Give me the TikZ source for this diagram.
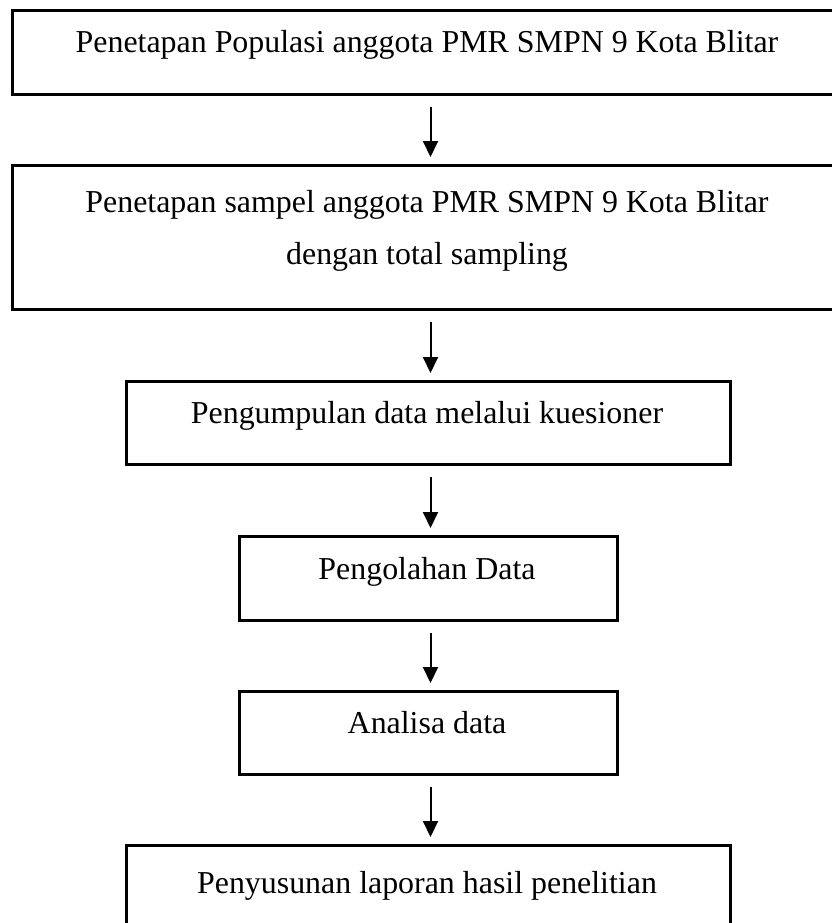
\documentclass[tikz,border=0pt]{standalone}
\usepackage{fontspec}
\setmainfont{Liberation Serif}
\usetikzlibrary{arrows.meta}
\begin{document}
\begin{tikzpicture}[x=1pt,y=-1pt,
  box/.style={draw, line width=3pt, inner sep=0pt, anchor=north west},
  txt/.style={font=\fontsize{31.9}{52}\selectfont, anchor=base, align=center, inner sep=0pt},
  arr/.style={line width=2pt, -{Triangle[width=15pt,length=16pt]}, shorten <=11pt, shorten >=7pt}]
\clip (0,0) rectangle (832,923);
\node[box, minimum width=832pt, minimum height=84pt] (b1) at (11,9) {};
\node[box, minimum width=832pt, minimum height=144pt] (b2) at (11,164) {};
\node[box, minimum width=604pt, minimum height=83pt] (b3) at (125,380) {};
\node[box, minimum width=378pt, minimum height=84pt] (b4) at (238,535) {};
\node[box, minimum width=378pt, minimum height=83pt] (b5) at (238,690) {};
\node[box, minimum width=604pt, minimum height=95pt] (b6) at (125,844) {};
\node[txt] (t1) at (427,53) {Penetapan Populasi anggota PMR SMPN 9 Kota Blitar};
\node[txt] (t2) at (427,264) {Penetapan sampel anggota PMR SMPN 9 Kota Blitar\\dengan total sampling};
\node[txt] (t3) at (427,423) {Pengumpulan data melalui kuesioner};
\node[txt] (t4) at (427,579) {Pengolahan Data};
\node[txt] (t5) at (427,733) {Analisa data};
\node[txt] (t6) at (427,893) {Penyusunan laporan hasil penelitian};
\draw[arr] ([xshift=2pt]b1.south) -- ([xshift=2pt]b2.north);
\draw[arr] ([xshift=2pt]b2.south) -- ([xshift=2pt]b3.north);
\draw[arr] ([xshift=2pt]b3.south) -- ([xshift=2pt]b4.north);
\draw[arr] ([xshift=2pt]b4.south) -- ([xshift=2pt]b5.north);
\draw[arr] ([xshift=2pt]b5.south) -- ([xshift=2pt]b6.north);
\end{tikzpicture}
\end{document}
